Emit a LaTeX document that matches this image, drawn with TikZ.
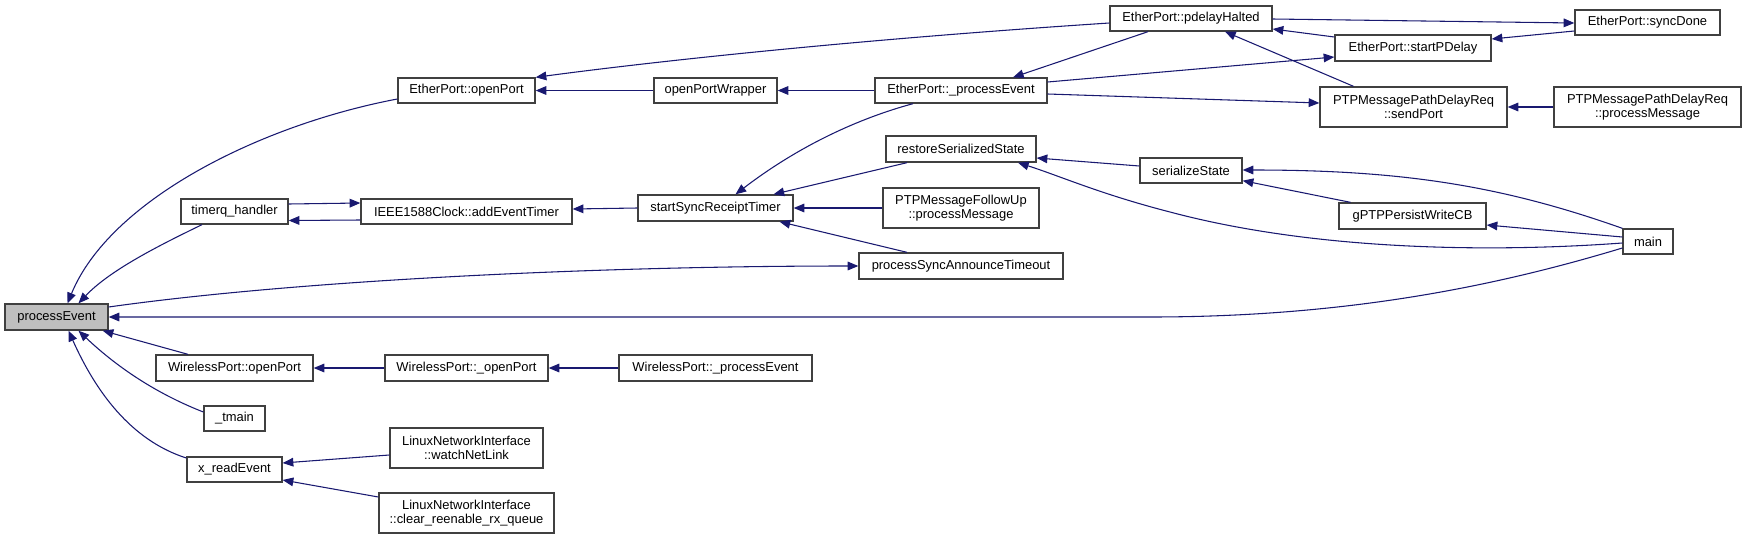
\documentclass[tikz,border=0pt]{standalone}
\usepackage{fontspec}
\setmainfont{Liberation Sans}
\usetikzlibrary{arrows.meta,calc}
\definecolor{edgec}{HTML}{191970}
\definecolor{boxc}{HTML}{404040}
\definecolor{hilite}{HTML}{BFBFBF}
\newcommand\bx[7][]{\node[box,#1,minimum width={(#5-(#3))*0.75pt},minimum height={(#6-(#4))*0.75pt}] (#2) at ({(#3+#5)/2},{(#4+#6)/2}) {#7};}
\begin{document}
\begin{tikzpicture}[x=0.75pt,y=-0.75pt,
  box/.style={draw=boxc,line width=1pt,fill=white,inner sep=0pt,align=center,
    font=\fontsize{9.7}{10}\selectfont},
  call/.style={draw=edgec,line width=0.8pt,-{Triangle[length=8pt,width=6.5pt]}}]
\useasboundingbox (0,0) rectangle (1747,539);
% nodes
\bx[fill=hilite]{pe}{5}{304}{108}{330}{processEvent}
\bx{eop}{398}{78}{535}{103}{EtherPort::openPort}
\bx{tq}{181}{199}{288}{224}{timerq\_handler}
\bx{aet}{361}{199}{572}{224}{IEEE1588Clock::addEventTimer}
\bx{wop}{156}{355}{313}{381}{WirelessPort::openPort}
\bx{wopp}{385}{355}{548}{381}{WirelessPort::\_openPort}
\bx{tm}{204}{406}{265}{431}{\_tmain}
\bx{xr}{187}{457}{282}{482}{x\_readEvent}
\bx{wnl}{390}{428}{543}{468}{LinuxNetworkInterface\\::watchNetLink}
\bx{crq}{379}{493}{554}{533}{LinuxNetworkInterface\\::clear\_reenable\_rx\_queue}
\bx{opw}{654}{78}{777}{103}{openPortWrapper}
\bx{epe}{875}{78}{1047}{103}{EtherPort::\_processEvent}
\bx{rss}{886}{136}{1036}{162}{restoreSerializedState}
\bx{ssrt}{638}{195}{793}{221}{startSyncReceiptTimer}
\bx{fu}{883}{188}{1039}{228}{PTPMessageFollowUp\\::processMessage}
\bx{psat}{859}{253}{1063}{279}{processSyncAnnounceTimeout}
\bx{wpe}{619}{355}{812}{381}{WirelessPort::\_processEvent}
\bx{pdh}{1110}{6}{1272}{31}{EtherPort::pdelayHalted}
\bx{spd}{1335}{35}{1491}{61}{EtherPort::startPDelay}
\bx{sp}{1320}{87}{1507}{127}{PTPMessagePathDelayReq\\::sendPort}
\bx{ss}{1140}{158}{1242}{183}{serializeState}
\bx{gp}{1339}{203}{1486}{229}{gPTPPersistWriteCB}
\bx{sd}{1575}{10}{1720}{35}{EtherPort::syncDone}
\bx{pm}{1554}{87}{1741}{127}{PTPMessagePathDelayReq\\::processMessage}
\bx{main}{1623}{229}{1673}{254}{main}
% edges
\draw[call] ($(eop.west)+(0,8.5)$) .. controls (260,125) and (110,200) .. ($(pe.north)+(11,0)$);
\draw[call] ($(tq.south)+(-32.5,0)$) .. controls (160,245) and (110,270) .. ($(pe.north)+(22,0)$);
\draw[call] ($(pe.east)+(0,-10)$) .. controls (300,280) and (600,266) .. (psat.west);
\draw[call] ($(main.west)+(0,6.5)$) .. controls (1500,285) and (1350,317) .. (1150,317) -- (pe.east);
\draw[call] ($(wop.north)+(-46.5,0)$) -- ($(pe.south east)+(-6,0)$);
\draw[call] ($(tm.west)+(0,-6.5)$) .. controls (160,395) and (120,370) .. ($(pe.south)+(22,0)$);
\draw[call] ($(xr.west)+(0,-11.5)$) .. controls (130,440) and (95,390) .. ($(pe.south)+(12,0)$);
\draw[call] ($(tq.east)+(0,-7.5)$) -- ($(aet.west)+(0,-8.5)$);
\draw[call] ($(aet.west)+(0,8.5)$) -- ($(tq.east)+(0,9)$);
\draw[call] (ssrt.west) -- ($(aet.east)+(0,-2.5)$);
\draw[call] (opw.west) -- (eop.east);
\draw[call] ($(pdh.west)+(0,4.5)$) .. controls (850,40) and (650,62) .. (eop.north east);
\draw[call] (epe.west) -- (opw.east);
\draw[call] ($(pdh.south)+(-43,0)$) -- ($(epe.north)+(52,0)$);
\draw[call] ($(epe.south)+(-48,0)$) .. controls (860,118) and (800,145) .. ($(ssrt.north)+(20,0)$);
\draw[call] ($(rss.south)+(-54,0)$) -- ($(ssrt.north)+(58,0)$);
\draw[call] (fu.west) -- (ssrt.east);
\draw[call] ($(psat.north)+(-54,0)$) -- ($(ssrt.south)+(64,0)$);
\draw[call] ($(epe.east)+(0,-8.5)$) -- ($(spd.west)+(0,9)$);
\draw[call] ($(epe.east)+(0,3.5)$) -- ($(sp.west)+(0,-4)$);
\draw[call] ($(spd.west)+(0,-11)$) -- ($(pdh.east)+(0,10.5)$);
\draw[call] ($(pdh.east)+(0,0.5)$) -- ($(sd.west)+(0,0.5)$);
\draw[call] ($(sd.west)+(0,8.5)$) -- ($(spd.east)+(0,-9)$);
\draw[call] ($(sp.north)+(-60,0)$) -- ($(pdh.south)+(34,0)$);
\draw[call] (pm.west) -- (sp.east);
\draw[call] ($(ss.west)+(0,-4.5)$) -- ($(rss.east)+(0,9)$);
\draw[call] ($(main.west)+(0,1.5)$) .. controls (1500,252) and (1320,252) .. (1170,212) .. controls (1100,194) and (1060,176) .. ($(rss.south)+(57,0)$);
\draw[call] (main.north west) .. controls (1500,185) and (1400,170) .. ($(ss.east)+(0,-0.5)$);
\draw[call] ($(gp.north)+(-62,0)$) -- ($(ss.south east)+(0,-3)$);
\draw[call] ($(main.west)+(0,-4.5)$) -- ($(gp.east)+(0,9)$);
\draw[call] (wopp.west) -- (wop.east);
\draw[call] (wpe.west) -- (wopp.east);
\draw[call] ($(wnl.west)+(0,7)$) -- ($(xr.east)+(0,-6.5)$);
\draw[call] ($(crq.west)+(0,-16)$) -- ($(xr.east)+(0,10.5)$);
\end{tikzpicture}
\end{document}
